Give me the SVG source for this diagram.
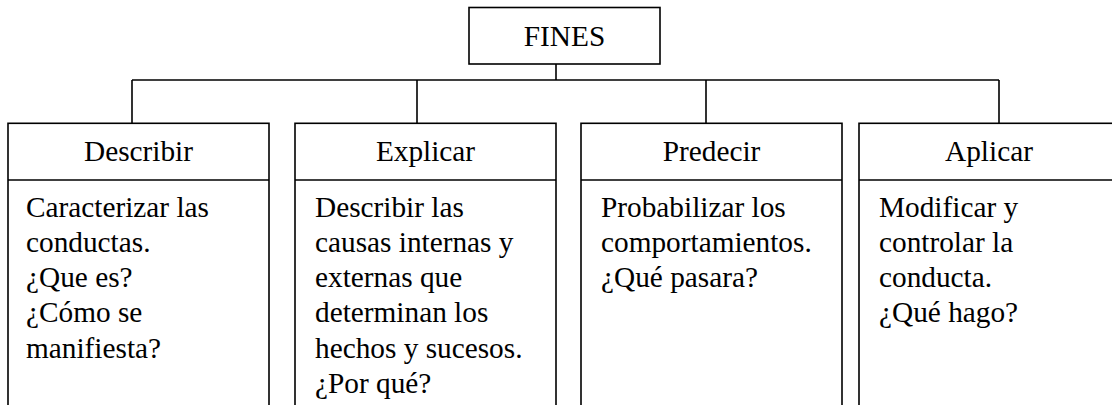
<svg xmlns="http://www.w3.org/2000/svg" width="1112" height="405" viewBox="0 0 1112 405">
  <style>
    .box { fill: #ffffff; stroke: #000000; stroke-width: 1.6; }
    .ln { fill: none; stroke: #000000; stroke-width: 1.6; }
    .t { font-family: "Liberation Serif", "Times New Roman", serif; font-size: 29.3px; fill: #000000; }
    .c { text-anchor: middle; }
  </style>
  <rect width="1112" height="405" fill="#ffffff"/>
  <g id="connectors">
    <path class="ln" d="M556 64 V80 M132 80 H999 M132 80 V123 M417 80 V123 M706 80 V123 M999 80 V123"/>
  </g>
  <g id="fines">
    <rect class="box" x="469" y="7.5" width="191" height="56.5"/>
    <text class="t c" x="564.5" y="45.7">FINES</text>
  </g>
  <g id="describir">
    <rect class="box" x="8" y="123.3" width="261" height="300"/>
    <line class="ln" x1="8" y1="180" x2="269" y2="180"/>
    <text class="t c" x="138.5" y="160.7">Describir</text>
    <text class="t" x="26" y="216.5">
      <tspan x="26">Caracterizar las</tspan>
      <tspan x="26" dy="35.3">conductas.</tspan>
      <tspan x="26" dy="35.3">¿Que es?</tspan>
      <tspan x="26" dy="35.3">¿Cómo se</tspan>
      <tspan x="26" dy="35.3">manifiesta?</tspan>
    </text>
  </g>
  <g id="explicar">
    <rect class="box" x="295" y="123.3" width="261" height="300"/>
    <line class="ln" x1="295" y1="180" x2="556" y2="180"/>
    <text class="t c" x="425.5" y="160.7">Explicar</text>
    <text class="t" x="315" y="216.5">
      <tspan x="315">Describir las</tspan>
      <tspan x="315" dy="35.3">causas internas y</tspan>
      <tspan x="315" dy="35.3">externas que</tspan>
      <tspan x="315" dy="35.3">determinan los</tspan>
      <tspan x="315" dy="35.3">hechos y sucesos.</tspan>
      <tspan x="315" dy="35.3">¿Por qué?</tspan>
    </text>
  </g>
  <g id="predecir">
    <rect class="box" x="581" y="123.3" width="261" height="300"/>
    <line class="ln" x1="581" y1="180" x2="842" y2="180"/>
    <text class="t c" x="711.5" y="160.7">Predecir</text>
    <text class="t" x="601" y="216.5">
      <tspan x="601">Probabilizar los</tspan>
      <tspan x="601" dy="35.3">comportamientos.</tspan>
      <tspan x="601" dy="35.3">¿Qué pasara?</tspan>
    </text>
  </g>
  <g id="aplicar">
    <rect class="box" x="859" y="123.3" width="261" height="300"/>
    <line class="ln" x1="859" y1="180" x2="1120" y2="180"/>
    <text class="t c" x="989" y="160.7">Aplicar</text>
    <text class="t" x="879" y="216.5">
      <tspan x="879">Modificar y</tspan>
      <tspan x="879" dy="35.3">controlar la</tspan>
      <tspan x="879" dy="35.3">conducta.</tspan>
      <tspan x="879" dy="35.3">¿Qué hago?</tspan>
    </text>
  </g>
</svg>
